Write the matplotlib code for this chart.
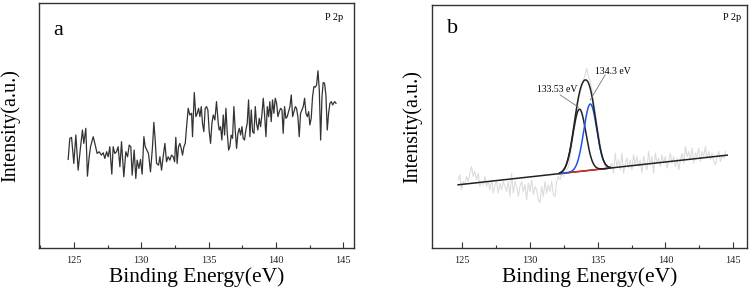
import matplotlib
matplotlib.use("Agg")
import matplotlib.pyplot as plt
from matplotlib.ticker import MultipleLocator
import numpy as np

plt.rcParams['font.family'] = ['Liberation Serif', 'DejaVu Serif']

# panel a: raw P 2p survey (binding energy in eV, intensity in arb. units)
energy_a = [
    124.58, 124.70, 124.83, 125.00, 125.15, 125.32, 125.50, 125.64, 125.74, 125.89,
    126.01, 126.14, 126.24, 126.44, 126.56, 126.73, 126.88, 127.05, 127.18, 127.30,
    127.43, 127.55, 127.67, 127.82, 127.92, 128.04, 128.17, 128.29, 128.42, 128.54,
    128.71, 128.86, 128.99, 129.11, 129.23, 129.33, 129.48, 129.60, 129.70, 129.83,
    129.95, 130.07, 130.20, 130.30, 130.42, 130.54, 130.69, 130.84, 130.94, 131.04,
    131.14, 131.29, 131.39, 131.51, 131.63, 131.76, 131.88, 132.00, 132.13, 132.25,
    132.38, 132.48, 132.57, 132.67, 132.77, 132.87, 132.97, 133.07, 133.17, 133.27,
    133.37, 133.49, 133.61, 133.74, 133.81, 133.94, 134.06, 134.16, 134.26, 134.36,
    134.46, 134.55, 134.65, 134.75, 134.85, 134.95, 135.05, 135.15, 135.25, 135.35,
    135.47, 135.59, 135.72, 135.79, 135.89, 135.99, 136.09, 136.19, 136.29, 136.39,
    136.49, 136.58, 136.68, 136.78, 136.88, 136.98, 137.08, 137.18, 137.28, 137.38,
    137.48, 137.57, 137.67, 137.77, 137.87, 137.97, 138.07, 138.17, 138.27, 138.37,
    138.47, 138.56, 138.66, 138.76, 138.86, 138.96, 139.06, 139.16, 139.26, 139.36,
    139.46, 139.55, 139.65, 139.75, 139.85, 139.95, 140.05, 140.15, 140.25, 140.35,
    140.45, 140.54, 140.64, 140.74, 140.84, 140.94, 141.04, 141.14, 141.24, 141.34,
    141.44, 141.53, 141.63, 141.73, 141.83, 141.93, 142.03, 142.13, 142.23, 142.33,
    142.43, 142.52, 142.62, 142.72, 142.82, 142.92, 143.02, 143.12, 143.22, 143.32,
    143.42, 143.51, 143.61, 143.71, 143.81, 143.91, 144.01, 144.11, 144.21, 144.36,
    144.46,
]
intensity_a = [
    265, 328, 331, 253, 338, 233, 303, 353, 313, 358,
    215, 273, 303, 333, 313, 283, 288, 278, 285, 268,
    288, 273, 303, 221, 303, 283, 288, 303, 243, 318,
    213, 288, 273, 308, 303, 218, 293, 208, 263, 238,
    265, 221, 333, 303, 293, 283, 228, 303, 376, 323,
    253, 248, 273, 233, 273, 313, 258, 273, 263, 278,
    273, 258, 331, 253, 303, 313, 298, 278, 303, 313,
    363, 418, 398, 403, 333, 465, 393, 403, 418, 393,
    423, 373, 348, 418, 423, 413, 348, 313, 373, 398,
    383, 438, 373, 353, 363, 323, 398, 338, 418, 343,
    293, 303, 338, 328, 423, 353, 298, 343, 358, 338,
    363, 328, 323, 353, 373, 443, 333, 413, 348, 343,
    423, 373, 353, 388, 363, 398, 448, 398, 333, 423,
    393, 438, 378, 443, 403, 448, 433, 393, 408, 418,
    413, 343, 423, 388, 393, 408, 423, 458, 393, 408,
    423, 418, 393, 333, 403, 413, 423, 448, 403, 393,
    408, 368, 388, 453, 483, 481, 488, 530, 473, 323,
    453, 495, 493, 458, 353, 403, 433, 438, 428, 438,
    433,
]

# panel b: raw data (light grey), linear background and two P 2p components
raw_b = [
    205, 220, 175, 200, 190, 215, 200, 225, 245, 215,
    230, 205, 225, 185, 200, 190, 215, 185, 200, 175,
    205, 165, 190, 200, 165, 195, 175, 200, 185, 170,
    200, 155, 225, 165, 200, 185, 155, 185, 200, 170,
    190, 145, 195, 170, 205, 160, 185, 175, 145, 137,
    185, 155, 200, 165, 190, 170, 200, 160, 155, 200,
    215, 205, 225, 215, 225, 235, 245, 275, 305, 345,
    375, 415, 445, 465, 485, 505, 520, 540, 515, 500,
    475, 445, 415, 375, 345, 315, 285, 265, 245, 250,
    240, 245, 255, 225, 285, 245, 265, 235, 285, 225,
    250, 270, 240, 265, 235, 280, 250, 275, 245, 265,
    225, 275, 255, 235, 290, 250, 275, 225, 285, 255,
    270, 245, 280, 255, 275, 240, 260, 285, 255, 275,
    245, 270, 235, 265, 285, 255, 305, 275, 290, 265,
    300, 255, 285, 275, 300, 260, 290, 275, 305, 270,
    290, 265, 285, 260, 250, 275, 290, 260, 280, 270,
    290,
]
raw_b_start, raw_b_end = 124.70, 144.43
background_b = [(124.70, 190), (144.56, 279)]
fit_range_b = (132.2, 135.95)
peak_centers = [133.65, 134.45]
peak_heights = [187, 199]
peak_sigma = 0.48
peak_labels = ['133.53 eV', '134.3 eV']

fig = plt.figure(figsize=(7.49, 2.96), dpi=100)
ax_a = fig.add_axes([0.0527, 0.162, 0.42, 0.828])
ax_b = fig.add_axes([0.5764, 0.162, 0.4206, 0.821])

for ax in (ax_a, ax_b):
    for sp in ax.spines.values():
        sp.set_color('#333333')
        sp.set_linewidth(1.0)
    ax.xaxis.set_major_locator(MultipleLocator(5))
    ax.xaxis.set_minor_locator(MultipleLocator(2.5))
    ax.tick_params(axis='x', which='major', direction='in', length=4, width=0.8,
                   labelsize=7.5, pad=6, colors='#333333')
    ax.tick_params(axis='x', which='minor', direction='in', length=2.5, width=0.8,
                   colors='#333333')
    ax.tick_params(axis='x', labelcolor='#222222')
    ax.set_yticks([])
    ax.set_xlabel('Binding Energy(eV)', fontsize=15.5, labelpad=1)
    ax.set_ylabel('Intensity(a.u.)', fontsize=14.5)

ax_a.yaxis.set_label_coords(-0.062, 0.5)
ax_b.yaxis.set_label_coords(-0.03, 0.5)

# --- panel a
ax_a.plot(energy_a, intensity_a, color='#333333', lw=0.9)
ax_a.set_xlim(122.45, 145.8)
ax_a.set_ylim(0, 733)
ax_a.text(0.043, 0.87, 'a', transform=ax_a.transAxes, fontsize=16)
ax_a.text(0.965, 0.96, 'P 2p', transform=ax_a.transAxes, fontsize=7.5,
          ha='right', va='top')

# --- panel b
e_raw = np.linspace(raw_b_start, raw_b_end, len(raw_b))
ax_b.plot(e_raw, raw_b, color='#dcdcdc', lw=0.8, zorder=1)

(bx0, by0), (bx1, by1) = background_b
ax_b.plot([bx0, bx1], [by0, by1], color='#222222', lw=1.1, zorder=2)

e_fit = np.linspace(fit_range_b[0], fit_range_b[1], 300)
bg_fit = np.interp(e_fit, [bx0, bx1], [by0, by1])
ax_b.plot(e_fit, bg_fit, color='#e8281e', lw=1.0, zorder=3)

comps = [h * np.exp(-(e_fit - c) ** 2 / (2 * peak_sigma ** 2))
         for c, h in zip(peak_centers, peak_heights)]
ax_b.plot(e_fit, bg_fit + comps[0], color='#222222', lw=1.1, zorder=4)
ax_b.plot(e_fit, bg_fit + comps[1], color='#1f55e0', lw=1.1, zorder=4)
ax_b.plot(e_fit, bg_fit + comps[0] + comps[1], color='#222222', lw=1.1, zorder=5)

# leader lines and peak labels
ax_b.plot([132.23, 133.58], [460, 423], color='#777777', lw=0.6, zorder=6)
ax_b.plot([135.55, 134.45], [520, 445], color='#777777', lw=0.6, zorder=6)
ax_b.text(131.98, 475, peak_labels[0], fontsize=7, ha='center', va='center')
ax_b.text(136.10, 530, peak_labels[1], fontsize=7, ha='center', va='center')

ax_b.set_xlim(122.75, 146.0)
ax_b.set_ylim(0, 730)
ax_b.text(0.048, 0.885, 'b', transform=ax_b.transAxes, fontsize=16)
ax_b.text(0.982, 0.967, 'P 2p', transform=ax_b.transAxes, fontsize=7.5,
          ha='right', va='top')

fig.savefig('out.png', dpi=100)
